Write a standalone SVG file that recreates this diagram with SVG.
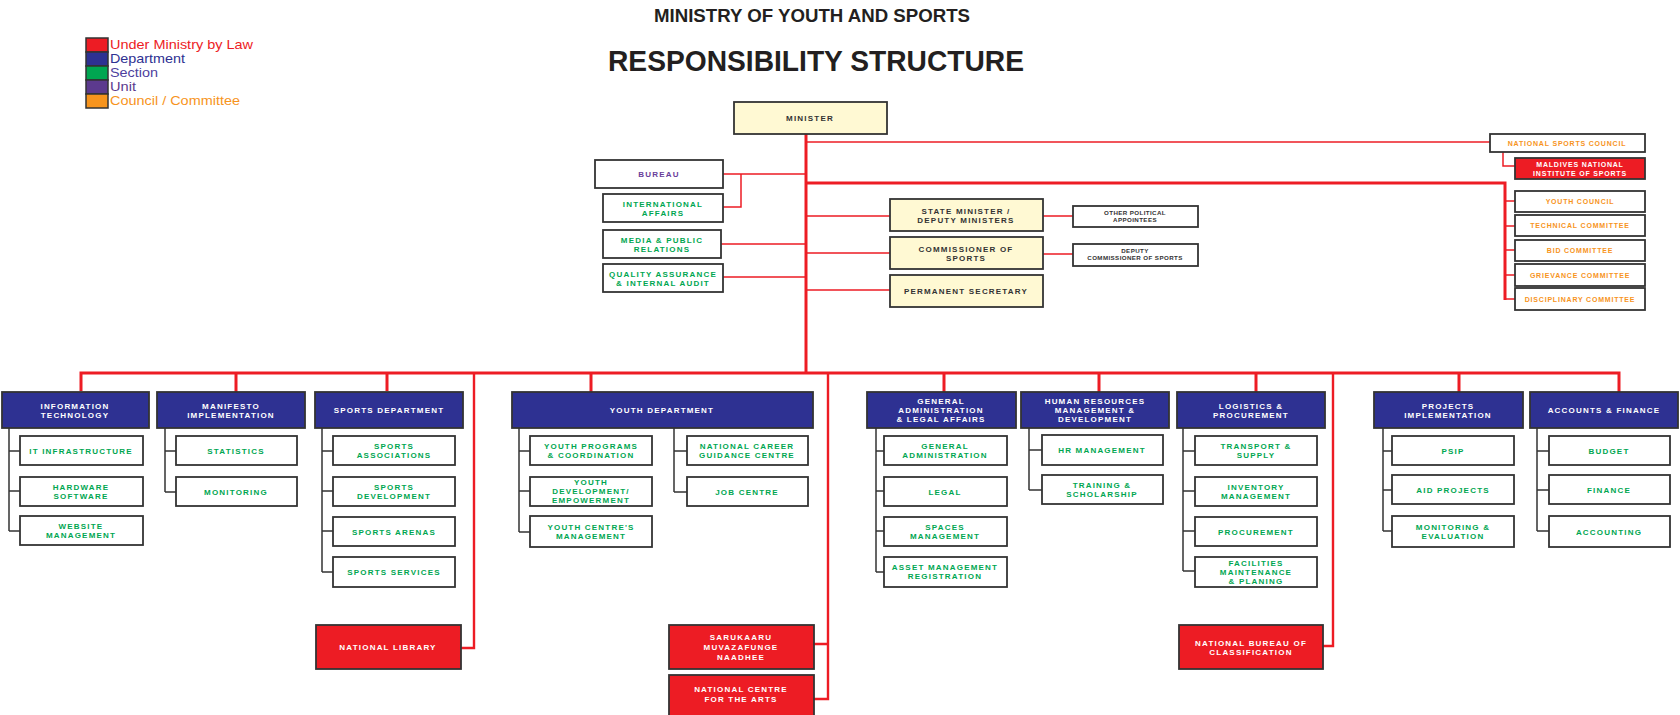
<svg xmlns="http://www.w3.org/2000/svg" width="1680" height="715" viewBox="0 0 1680 715">
<style>
.bx{fill:#fff;stroke:#333;stroke-width:1.8}
.yl{fill:#FFF9D3;stroke:#333;stroke-width:1.8}
.dp{fill:#2E3192;stroke:#333;stroke-width:1.8}
.rd{fill:#ED1C24;stroke:#333;stroke-width:1.8}
.t{font-family:"Liberation Sans",Arial,sans-serif;font-weight:bold;font-size:8px;text-anchor:middle;letter-spacing:1.2px}
.s{font-size:7px;letter-spacing:0.8px}
.xs{font-size:6.2px;letter-spacing:0.4px}
.g{fill:#00A651}.w{fill:#fff}.o{fill:#F7941D}.d{fill:#333}.p{fill:#6A3D9A}
.lg{font-family:"Liberation Sans",Arial,sans-serif;font-size:13px}
.ttl{font-family:"Liberation Sans",Arial,sans-serif;font-weight:bold;fill:#231F20;text-anchor:middle}
.r3{fill:none;stroke:#ED1C24;stroke-width:3}
.r2{fill:none;stroke:#ED1C24;stroke-width:2.4}
.r1{fill:none;stroke:#ED1C24;stroke-width:1.5}
.k1{fill:none;stroke:#333;stroke-width:1.5}
</style>
<rect width="1680" height="715" fill="#fff"/>

<g id="legend">
<rect x="86" y="38" width="22" height="14" fill="#ED1C24" stroke="#333" stroke-width="1.5"/>
<rect x="86" y="52" width="22" height="14" fill="#2E3192" stroke="#333" stroke-width="1.5"/>
<rect x="86" y="66" width="22" height="14" fill="#00A651" stroke="#333" stroke-width="1.5"/>
<rect x="86" y="80" width="22" height="14" fill="#5C3A8E" stroke="#333" stroke-width="1.5"/>
<rect x="86" y="94" width="22" height="14" fill="#F7941D" stroke="#333" stroke-width="1.5"/>
<text class="lg" x="110" y="49" fill="#ED1C24" textLength="143" lengthAdjust="spacingAndGlyphs">Under Ministry by Law</text>
<text class="lg" x="110" y="63" fill="#2E3192" textLength="75" lengthAdjust="spacingAndGlyphs">Department</text>
<text class="lg" x="110" y="77" fill="#4E3F9E" textLength="48" lengthAdjust="spacingAndGlyphs">Section</text>
<text class="lg" x="110" y="91" fill="#5C3A8E" textLength="26" lengthAdjust="spacingAndGlyphs">Unit</text>
<text class="lg" x="110" y="105" fill="#F7941D" textLength="130" lengthAdjust="spacingAndGlyphs">Council / Committee</text>
</g>

<g id="title">
<text class="ttl" x="812" y="22" font-size="19" textLength="316" lengthAdjust="spacingAndGlyphs">MINISTRY OF YOUTH AND SPORTS</text>
<text class="ttl" x="816" y="71" font-size="29" textLength="416" lengthAdjust="spacingAndGlyphs">RESPONSIBILITY STRUCTURE</text>
</g>

<g id="connectors">
<path class="r3" d="M806,134V373"/>
<path class="r1" d="M806,142H1490"/>
<path class="r1" d="M1503,152V166H1515"/>
<path class="r3" d="M806,183H1505V300"/>
<path class="r1" d="M1505,201H1515M1505,226H1515M1505,250H1515M1505,275H1515M1505,299H1515"/>
<path class="r1" d="M723,174H806M741,174V207H723M721,244H806M723,277H806"/>
<path class="r1" d="M806,216H890M1043,216H1073M806,253H890M1043,254H1073M806,290H890"/>
<path class="r3" d="M81,391V373H1619V392"/>
<path class="r3" d="M236,373V393M387,373V391M591,373V393M944,373V393M1099,373V393M1256,373V392M1459,373V393"/>
<path class="r2" d="M474,373V648H461"/>
<path class="r2" d="M828,373V699H814M828,644H814"/>
<path class="r2" d="M1333,373V646H1323"/>
<path class="k1" d="M9,428V531M9,451H20M9,491H20M9,531H20"/>
<path class="k1" d="M165,428V492M165,451H176M165,492H176"/>
<path class="k1" d="M322,428V572M322,451H333M322,491H333M322,531H333M322,572H333"/>
<path class="k1" d="M519,428V532M519,451H530M519,491H530M519,532H530"/>
<path class="k1" d="M674,428V492M674,451H687M674,492H687"/>
<path class="k1" d="M876,428V572M876,451H884M876,491H884M876,531H884M876,572H884"/>
<path class="k1" d="M1029,428V490M1029,450H1042M1029,490H1042"/>
<path class="k1" d="M1183,428V571M1183,451H1195M1183,491H1195M1183,531H1195M1183,571H1195"/>
<path class="k1" d="M1383,428V531M1383,451H1392M1383,490H1392M1383,531H1392"/>
<path class="k1" d="M1537,428V531M1537,451H1549M1537,490H1549M1537,531H1549"/>
</g>

<g id="minister"><rect class="yl" x="734" y="102" width="153" height="32"/><text class="t d" x="810" y="121">MINISTER</text></g>

<g id="nsc"><rect class="bx" x="1490" y="134" width="155" height="18"/><text class="t s o" x="1567" y="146">NATIONAL SPORTS COUNCIL</text></g>
<g id="mnis"><rect class="rd" x="1515" y="158" width="130" height="21"/><text class="t s w" x="1580" y="166.5">MALDIVES NATIONAL</text><text class="t s w" x="1580" y="175.5">INSTITUTE OF SPORTS</text></g>
<g id="youth-council"><rect class="bx" x="1515" y="191" width="130" height="21"/><text class="t s o" x="1580" y="204">YOUTH COUNCIL</text></g>
<g id="technical-committee"><rect class="bx" x="1515" y="215" width="130" height="21"/><text class="t s o" x="1580" y="228">TECHNICAL COMMITTEE</text></g>
<g id="bid-committee"><rect class="bx" x="1515" y="240" width="130" height="21"/><text class="t s o" x="1580" y="253">BID COMMITTEE</text></g>
<g id="grievance-committee"><rect class="bx" x="1515" y="264" width="130" height="22"/><text class="t s o" x="1580" y="278">GRIEVANCE COMMITTEE</text></g>
<g id="disciplinary-committee"><rect class="bx" x="1515" y="288" width="130" height="22"/><text class="t s o" x="1580" y="302">DISCIPLINARY COMMITTEE</text></g>

<g id="bureau"><rect class="bx" x="595" y="160" width="128" height="28"/><text class="t p" x="659" y="177">BUREAU</text></g>
<g id="international-affairs"><rect class="bx" x="603" y="194" width="120" height="28"/><text class="t g" x="663" y="206.5">INTERNATIONAL</text><text class="t g" x="663" y="215.5">AFFAIRS</text></g>
<g id="media"><rect class="bx" x="603" y="230" width="118" height="28"/><text class="t g" x="662" y="242.5">MEDIA &amp; PUBLIC</text><text class="t g" x="662" y="251.5">RELATIONS</text></g>
<g id="quality"><rect class="bx" x="603" y="264" width="120" height="28"/><text class="t g" x="663" y="276.5">QUALITY ASSURANCE</text><text class="t g" x="663" y="285.5">&amp; INTERNAL AUDIT</text></g>

<g id="state-minister"><rect class="yl" x="890" y="199" width="153" height="32"/><text class="t d" x="966" y="213.5">STATE MINISTER /</text><text class="t d" x="966" y="222.5">DEPUTY MINISTERS</text></g>
<g id="other-political"><rect class="bx" x="1073" y="206" width="125" height="21"/><text class="t xs d" x="1135" y="214.5">OTHER POLITICAL</text><text class="t xs d" x="1135" y="221.5">APPOINTEES</text></g>
<g id="commissioner"><rect class="yl" x="890" y="237" width="153" height="32"/><text class="t d" x="966" y="251.5">COMMISSIONER OF</text><text class="t d" x="966" y="260.5">SPORTS</text></g>
<g id="deputy-commissioner"><rect class="bx" x="1073" y="244" width="125" height="22"/><text class="t xs d" x="1135" y="253">DEPUTY</text><text class="t xs d" x="1135" y="260">COMMISSIONER OF SPORTS</text></g>
<g id="permanent-secretary"><rect class="yl" x="890" y="275" width="153" height="32"/><text class="t d" x="966" y="294">PERMANENT SECRETARY</text></g>

<g id="dept-it"><rect class="dp" x="2" y="392" width="147" height="36"/><text class="t w" x="75" y="408.5">INFORMATION</text><text class="t w" x="75" y="417.5">TECHNOLOGY</text></g>
<g id="dept-manifesto"><rect class="dp" x="157" y="392" width="148" height="36"/><text class="t w" x="231" y="408.5">MANIFESTO</text><text class="t w" x="231" y="417.5">IMPLEMENTATION</text></g>
<g id="dept-sports"><rect class="dp" x="315" y="392" width="148" height="36"/><text class="t w" x="389" y="413">SPORTS DEPARTMENT</text></g>
<g id="dept-youth"><rect class="dp" x="512" y="392" width="301" height="36"/><text class="t w" x="662" y="413">YOUTH DEPARTMENT</text></g>
<g id="dept-genadmin"><rect class="dp" x="867" y="392" width="149" height="36"/><text class="t w" x="941" y="404">GENERAL</text><text class="t w" x="941" y="413">ADMINISTRATION</text><text class="t w" x="941" y="422">&amp; LEGAL AFFAIRS</text></g>
<g id="dept-hr"><rect class="dp" x="1021" y="392" width="148" height="36"/><text class="t w" x="1095" y="404">HUMAN RESOURCES</text><text class="t w" x="1095" y="413">MANAGEMENT &amp;</text><text class="t w" x="1095" y="422">DEVELOPMENT</text></g>
<g id="dept-logistics"><rect class="dp" x="1177" y="392" width="148" height="36"/><text class="t w" x="1251" y="408.5">LOGISTICS &amp;</text><text class="t w" x="1251" y="417.5">PROCUREMENT</text></g>
<g id="dept-projects"><rect class="dp" x="1374" y="392" width="149" height="36"/><text class="t w" x="1448" y="408.5">PROJECTS</text><text class="t w" x="1448" y="417.5">IMPLEMENTATION</text></g>
<g id="dept-accounts"><rect class="dp" x="1530" y="392" width="148" height="36"/><text class="t w" x="1604" y="413">ACCOUNTS &amp; FINANCE</text></g>

<g id="it-infra"><rect class="bx" x="20" y="436" width="123" height="29"/><text class="t g" x="81" y="453.5">IT INFRASTRUCTURE</text></g>
<g id="it-hw"><rect class="bx" x="20" y="477" width="123" height="29"/><text class="t g" x="81" y="489.5">HARDWARE</text><text class="t g" x="81" y="498.5">SOFTWARE</text></g>
<g id="it-web"><rect class="bx" x="20" y="516" width="123" height="29"/><text class="t g" x="81" y="528.5">WEBSITE</text><text class="t g" x="81" y="537.5">MANAGEMENT</text></g>

<g id="statistics"><rect class="bx" x="176" y="436" width="121" height="29"/><text class="t g" x="236" y="453.5">STATISTICS</text></g>
<g id="monitoring"><rect class="bx" x="176" y="477" width="121" height="29"/><text class="t g" x="236" y="494.5">MONITORING</text></g>

<g id="sports-assoc"><rect class="bx" x="333" y="436" width="122" height="29"/><text class="t g" x="394" y="448.5">SPORTS</text><text class="t g" x="394" y="457.5">ASSOCIATIONS</text></g>
<g id="sports-dev"><rect class="bx" x="333" y="477" width="122" height="29"/><text class="t g" x="394" y="489.5">SPORTS</text><text class="t g" x="394" y="498.5">DEVELOPMENT</text></g>
<g id="sports-arenas"><rect class="bx" x="333" y="517" width="122" height="29"/><text class="t g" x="394" y="534.5">SPORTS ARENAS</text></g>
<g id="sports-services"><rect class="bx" x="333" y="557" width="122" height="30"/><text class="t g" x="394" y="575">SPORTS SERVICES</text></g>

<g id="youth-programs"><rect class="bx" x="530" y="436" width="122" height="29"/><text class="t g" x="591" y="448.5">YOUTH PROGRAMS</text><text class="t g" x="591" y="457.5">&amp; COORDINATION</text></g>
<g id="youth-dev"><rect class="bx" x="530" y="477" width="122" height="29"/><text class="t g" x="591" y="485">YOUTH</text><text class="t g" x="591" y="494">DEVELOPMENT/</text><text class="t g" x="591" y="503">EMPOWERMENT</text></g>
<g id="youth-centres"><rect class="bx" x="530" y="516" width="122" height="31"/><text class="t g" x="591" y="529.5">YOUTH CENTRE'S</text><text class="t g" x="591" y="538.5">MANAGEMENT</text></g>
<g id="career-guidance"><rect class="bx" x="687" y="436" width="121" height="29"/><text class="t g" x="747" y="448.5">NATIONAL CAREER</text><text class="t g" x="747" y="457.5">GUIDANCE CENTRE</text></g>
<g id="job-centre"><rect class="bx" x="687" y="477" width="121" height="29"/><text class="t g" x="747" y="494.5">JOB CENTRE</text></g>

<g id="gen-admin"><rect class="bx" x="884" y="436" width="123" height="29"/><text class="t g" x="945" y="448.5">GENERAL</text><text class="t g" x="945" y="457.5">ADMINISTRATION</text></g>
<g id="legal"><rect class="bx" x="884" y="477" width="123" height="29"/><text class="t g" x="945" y="494.5">LEGAL</text></g>
<g id="spaces"><rect class="bx" x="884" y="517" width="123" height="29"/><text class="t g" x="945" y="529.5">SPACES</text><text class="t g" x="945" y="538.5">MANAGEMENT</text></g>
<g id="asset"><rect class="bx" x="884" y="557" width="123" height="30"/><text class="t g" x="945" y="570">ASSET MANAGEMENT</text><text class="t g" x="945" y="579">REGISTRATION</text></g>

<g id="hr-mgmt"><rect class="bx" x="1042" y="435" width="121" height="30"/><text class="t g" x="1102" y="453">HR MANAGEMENT</text></g>
<g id="training"><rect class="bx" x="1042" y="475" width="121" height="29"/><text class="t g" x="1102" y="487.5">TRAINING &amp;</text><text class="t g" x="1102" y="496.5">SCHOLARSHIP</text></g>

<g id="transport"><rect class="bx" x="1195" y="436" width="122" height="29"/><text class="t g" x="1256" y="448.5">TRANSPORT &amp;</text><text class="t g" x="1256" y="457.5">SUPPLY</text></g>
<g id="inventory"><rect class="bx" x="1195" y="477" width="122" height="29"/><text class="t g" x="1256" y="489.5">INVENTORY</text><text class="t g" x="1256" y="498.5">MANAGEMENT</text></g>
<g id="procurement"><rect class="bx" x="1195" y="517" width="122" height="29"/><text class="t g" x="1256" y="534.5">PROCUREMENT</text></g>
<g id="facilities"><rect class="bx" x="1195" y="557" width="122" height="30"/><text class="t g" x="1256" y="565.5">FACILITIES</text><text class="t g" x="1256" y="574.5">MAINTENANCE</text><text class="t g" x="1256" y="583.5">&amp; PLANING</text></g>

<g id="psip"><rect class="bx" x="1392" y="436" width="122" height="29"/><text class="t g" x="1453" y="453.5">PSIP</text></g>
<g id="aid-projects"><rect class="bx" x="1392" y="475" width="122" height="29"/><text class="t g" x="1453" y="492.5">AID PROJECTS</text></g>
<g id="mon-eval"><rect class="bx" x="1392" y="516" width="122" height="31"/><text class="t g" x="1453" y="529.5">MONITORING &amp;</text><text class="t g" x="1453" y="538.5">EVALUATION</text></g>

<g id="budget"><rect class="bx" x="1549" y="436" width="121" height="29"/><text class="t g" x="1609" y="453.5">BUDGET</text></g>
<g id="finance"><rect class="bx" x="1549" y="475" width="121" height="29"/><text class="t g" x="1609" y="492.5">FINANCE</text></g>
<g id="accounting"><rect class="bx" x="1549" y="516" width="121" height="31"/><text class="t g" x="1609" y="534.5">ACCOUNTING</text></g>

<g id="national-library"><rect class="rd" x="316" y="625" width="145" height="44"/><text class="t w" x="388" y="650">NATIONAL LIBRARY</text></g>
<g id="sarukaaru"><rect class="rd" x="669" y="625" width="145" height="44"/><text class="t w" x="741" y="640">SARUKAARU</text><text class="t w" x="741" y="650">MUVAZAFUNGE</text><text class="t w" x="741" y="660">NAADHEE</text></g>
<g id="national-centre-arts"><rect class="rd" x="669" y="675" width="145" height="44"/><text class="t w" x="741" y="692">NATIONAL CENTRE</text><text class="t w" x="741" y="702">FOR THE ARTS</text></g>
<g id="national-bureau"><rect class="rd" x="1179" y="625" width="144" height="44"/><text class="t w" x="1251" y="645.5">NATIONAL BUREAU OF</text><text class="t w" x="1251" y="654.5">CLASSIFICATION</text></g>
</svg>
